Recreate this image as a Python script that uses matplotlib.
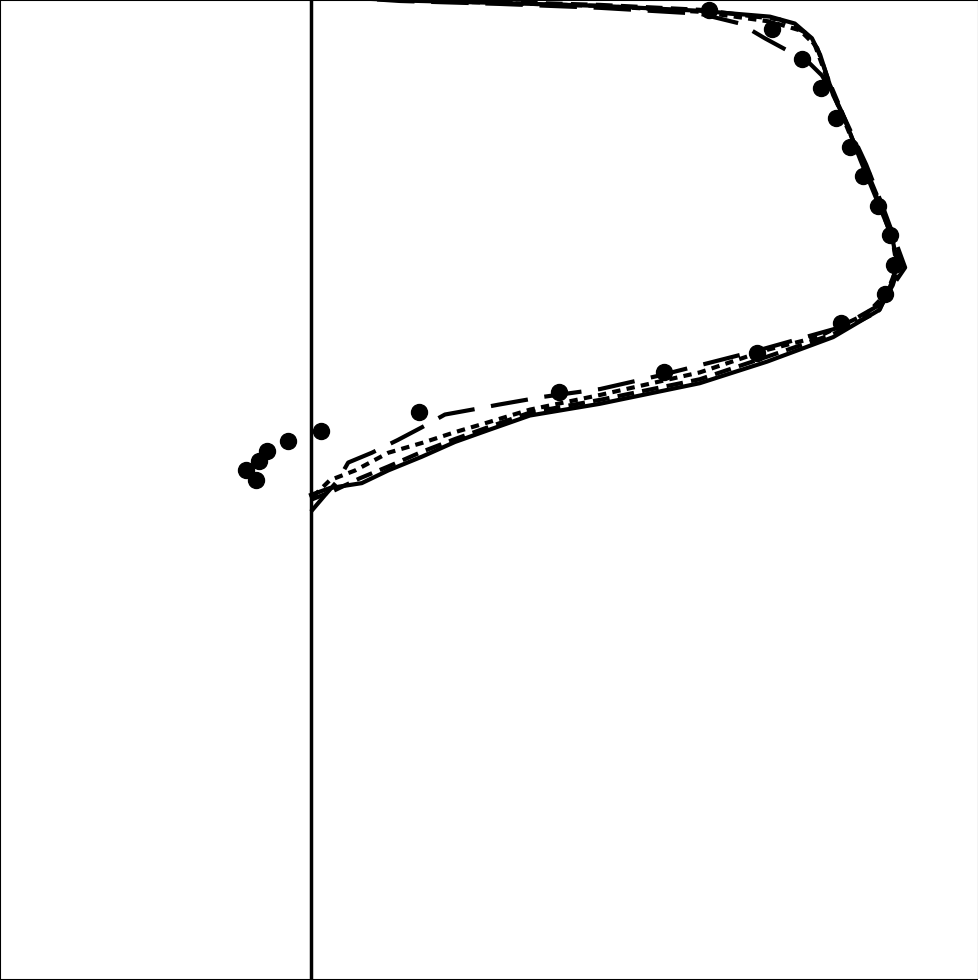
import matplotlib
matplotlib.use("Agg")
import matplotlib.pyplot as plt

# Measured points (x: velocity-like, y: height-like)
meas_x = [0.674, 0.781, 0.832, 0.864, 0.890, 0.913, 0.935, 0.961, 0.981, 0.988,
          0.973, 0.898, 0.756, 0.598, 0.421, 0.183, 0.017, -0.039, -0.075,
          -0.088, -0.110, -0.093]
meas_y = [0.99, 0.97, 0.94, 0.91, 0.88, 0.85, 0.82, 0.79, 0.76, 0.73,
          0.70, 0.67, 0.64, 0.62, 0.60, 0.58, 0.56, 0.55, 0.54, 0.53, 0.52, 0.51]

solid_x = [0.000, 0.032, 0.086, 0.131, 0.188, 0.244, 0.300, 0.371, 0.490, 0.659,
           0.773, 0.885, 0.964, 0.986, 0.993, 0.985, 0.959, 0.931, 0.905, 0.885,
           0.863, 0.849, 0.820, 0.778, 0.659, 0.490, 0.320, 0.185, 0.066, 0.015]
solid_y = [0.495, 0.502, 0.507, 0.520, 0.534, 0.549, 0.561, 0.576, 0.588, 0.609,
           0.631, 0.656, 0.684, 0.714, 0.733, 0.758, 0.796, 0.837, 0.878, 0.903,
           0.944, 0.961, 0.976, 0.983, 0.989, 0.994, 0.997, 0.999, 1.002, 1.005]

longdash_x = [0.000, 0.024, 0.046, 0.063, 0.103, 0.147, 0.188, 0.227, 0.273, 0.317,
              0.393, 0.490, 0.592, 0.761, 0.897, 0.964, 1.007, 0.993, 0.968, 0.941,
              0.914, 0.890, 0.866, 0.839, 0.812, 0.769, 0.727, 0.659, 0.490, 0.320,
              0.151, 0.049, 0.015]
longdash_y = [0.478, 0.495, 0.510, 0.528, 0.538, 0.551, 0.564, 0.577, 0.582, 0.587,
              0.595, 0.603, 0.617, 0.643, 0.666, 0.689, 0.727, 0.750, 0.791, 0.832,
              0.867, 0.898, 0.923, 0.939, 0.947, 0.961, 0.976, 0.986, 0.992, 0.996,
              0.999, 1.003, 1.006]

dotted_x = [0.003, 0.032, 0.075, 0.131, 0.188, 0.244, 0.300, 0.371, 0.490, 0.659,
            0.773, 0.858, 0.942, 0.976, 0.993, 0.986, 0.964, 0.939, 0.914,
            0.893, 0.873, 0.854, 0.829, 0.778, 0.659, 0.490, 0.320, 0.151, 0.049]
dotted_y = [0.493, 0.510, 0.520, 0.538, 0.548, 0.559, 0.569, 0.582, 0.597, 0.620,
            0.643, 0.656, 0.680, 0.701, 0.727, 0.755, 0.791, 0.829, 0.862,
            0.893, 0.923, 0.954, 0.969, 0.978, 0.988, 0.994, 0.997, 1.000, 1.003]

dashed_x = [0.000, 0.041, 0.083, 0.131, 0.188, 0.244, 0.300, 0.371, 0.490, 0.659,
            0.773, 0.885, 0.961, 0.986, 0.997, 0.990, 0.968, 0.941, 0.917, 0.897,
            0.876, 0.858, 0.837, 0.795, 0.659, 0.490, 0.320, 0.151, 0.049]
dashed_y = [0.490, 0.500, 0.512, 0.524, 0.539, 0.552, 0.564, 0.579, 0.592, 0.613,
            0.636, 0.659, 0.682, 0.709, 0.730, 0.755, 0.788, 0.827, 0.859, 0.890,
            0.920, 0.951, 0.967, 0.980, 0.990, 0.995, 0.998, 1.001, 1.004]

fig = plt.figure(figsize=(9.79, 9.80), dpi=100)
ax = fig.add_axes([0, 0, 1, 1])
ax.set_xlim(-311 / 590, 668 / 590)
ax.set_ylim(0, 1)
ax.set_xticks([])
ax.set_yticks([])
for s in ax.spines.values():
    s.set_linewidth(1.5)
    s.set_color("black")

ax.axvline(0, color="black", lw=2.5)

ax.plot(solid_x, solid_y, color="black", lw=3, ls="-")
ax.plot(longdash_x, longdash_y, color="black", lw=3, dashes=(9, 4))
ax.plot(dashed_x, dashed_y, color="black", lw=3, dashes=(4, 2))
ax.plot(dotted_x, dotted_y, color="black", lw=3, dashes=(2, 1.5))
ax.plot(meas_x, meas_y, ls="none", marker="o", color="black", markersize=11.5)

fig.savefig("out.png", dpi=100)
